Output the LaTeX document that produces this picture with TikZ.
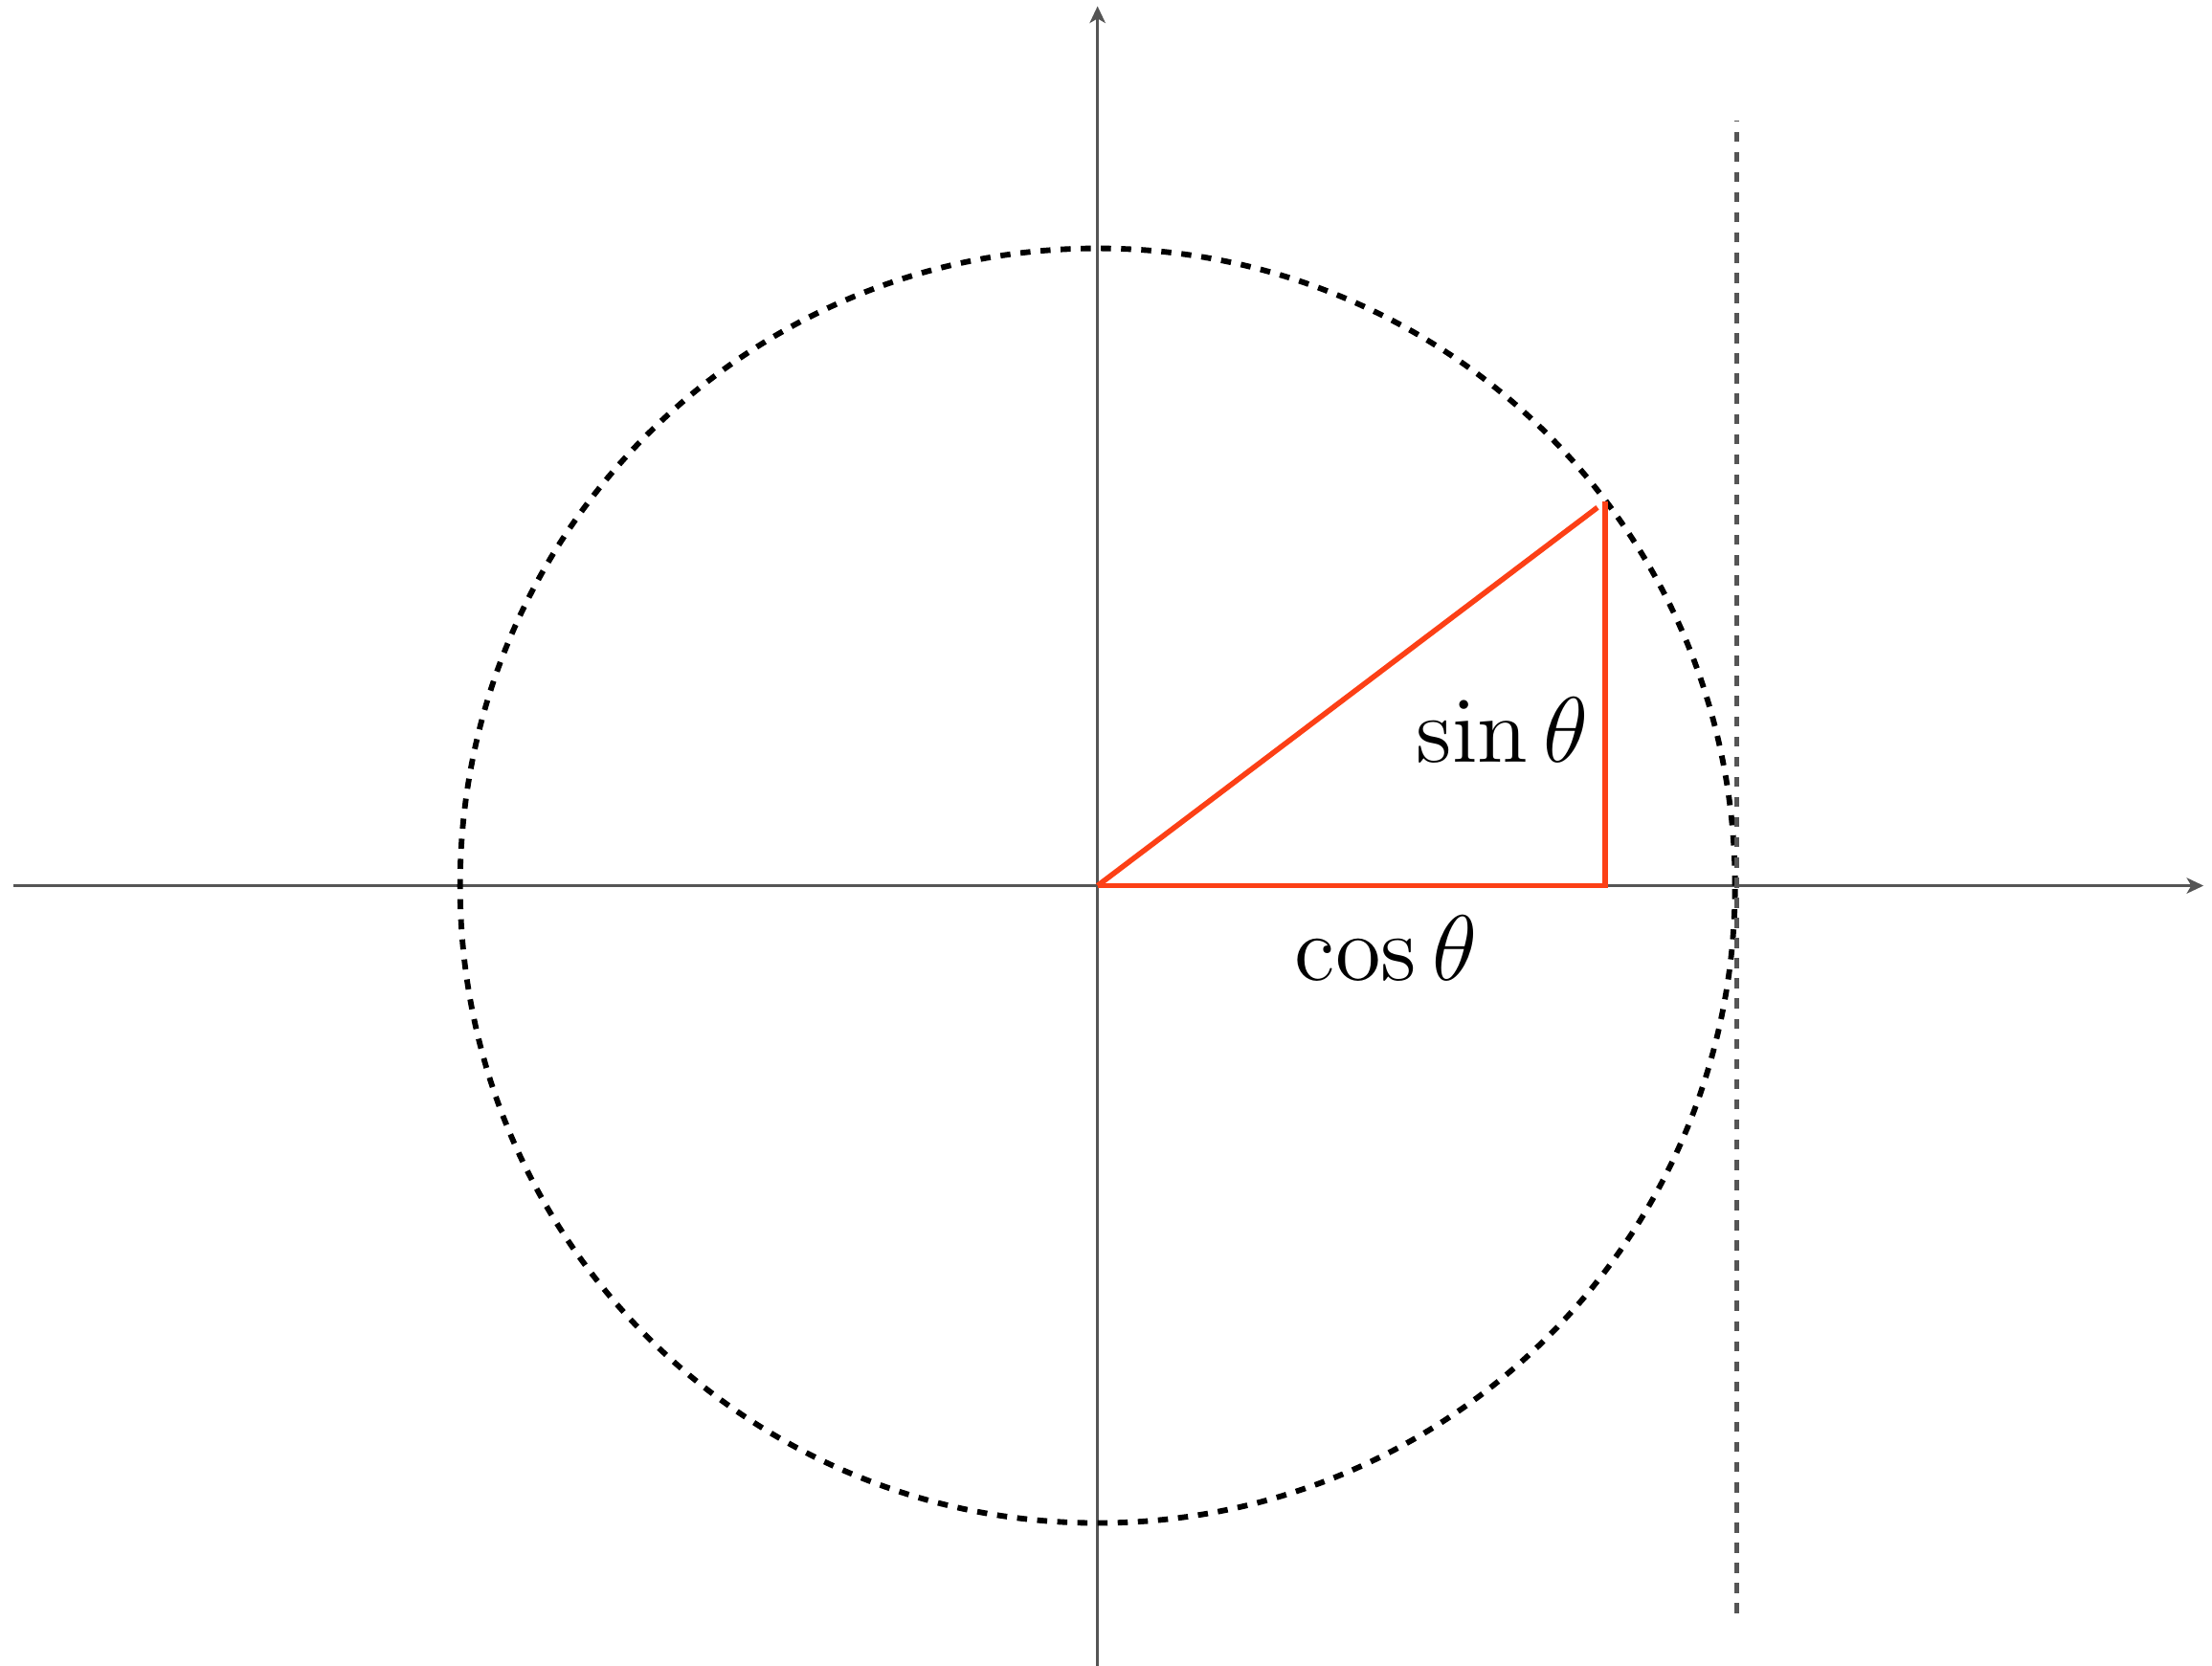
\documentclass[tikz,border=0pt]{standalone}
\usepackage{fix-cm}
\usepackage{amsmath, amssymb}
\usepackage{tikz}
\usetikzlibrary{arrows.meta, positioning, calc}
\definecolor{axisgray}{RGB}{85, 85, 85}
\definecolor{trigred}{RGB}{252, 64, 22}

\begin{document}
\begin{tikzpicture}[
    axis/.style={draw=axisgray, line width=0.5pt, -{Stealth[length=3pt, width=2.8pt, inset=0.8pt]}},
    circdash/.style={draw=black, line width=1pt, dash pattern=on 1.8pt off 1.8pt},
    tangent/.style={draw=axisgray, line width=0.95pt, dash pattern=on 1.8pt off 1.8pt},
    trig/.style={draw=trigred, line width=0.95pt},
    lbl/.style={font=\fontsize{16.6}{20}\selectfont, inner sep=0pt}
  ]
                    \useasboundingbox (-6.887, -4.897) rectangle (6.993, 5.559);

                    \coordinate (O) at (0, 0);
                    \coordinate (xl) at (-6.80, 0);
                    \coordinate (xr) at (6.94, 0);
                    \coordinate (yb) at (0, -4.95);
                    \coordinate (yt) at (0, 5.52);
                    \coordinate (tb) at (4.01, -4.567);
                    \coordinate (tt) at (4.01, 4.80);
                    \coordinate (P) at (3.185, 2.41);
                    \coordinate (Q) at (3.185, 0);

                    \draw[axis] (xl) -- (xr);
                    \draw[axis] (yb) -- (yt);

                    \draw[circdash] (O) circle (4);
                    \draw[tangent] (tb) -- (tt);

                    \draw[trig] (O) -- ($(O)!0.985!(P)$);
                    \draw[trig, line join=miter] (P) -- (Q) -- (O);

                    \node[lbl] (sinlbl) at (2.54, 0.98) {$\sin\theta$};
                    \node[lbl] (coslbl) at (1.81, -0.39) {$\cos\theta$};
                \end{tikzpicture}
\end{document}
